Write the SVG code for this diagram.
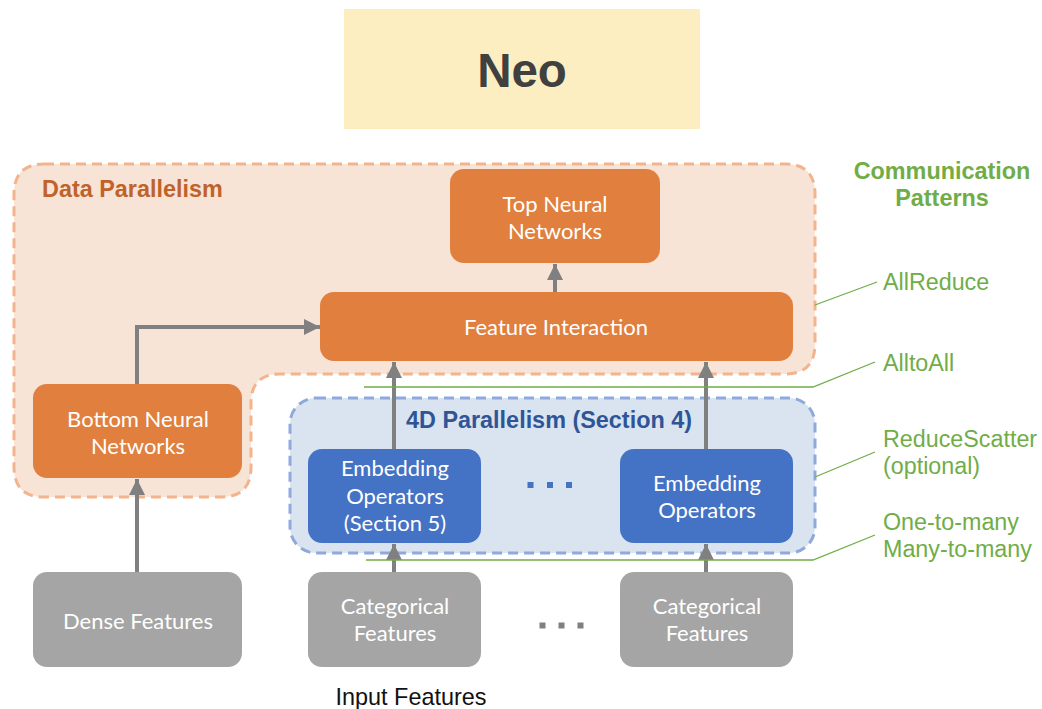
<svg xmlns="http://www.w3.org/2000/svg" width="1042" height="709" viewBox="0 0 1042 709">
  <defs>
    <marker id="arrow" markerUnits="userSpaceOnUse" markerWidth="18" markerHeight="16" refX="16" refY="8" orient="auto">
      <path d="M0,0 L16,8 L0,16 Z" fill="#808080"/>
    </marker>
    <style>
      .node-text { font-family: Lato, "Noto Sans", sans-serif; font-size: 22px; fill: #ffffff; text-anchor: middle; }
      .orange { fill: #e07f3e; }
      .blue { fill: #4472c4; }
      .gray { fill: #a5a5a5; }
      .edge { fill: none; stroke: #808080; stroke-width: 4; marker-end: url(#arrow); }
      .lead { fill: none; stroke: #70ad47; stroke-width: 1.3; }
      .comm { font-family: "Liberation Sans", Arial, sans-serif; font-size: 23.3px; fill: #70ad47; }
      .head { font-family: "Liberation Sans", Arial, sans-serif; font-size: 23.4px; font-weight: bold; }
    </style>
  </defs>
  <rect width="1042" height="709" fill="#ffffff"/>

  <!-- Title banner -->
  <g id="title">
    <rect x="344" y="9" width="356" height="120" fill="#fdeec2"/>
    <text x="522" y="87" font-family="Liberation Sans, Arial, sans-serif" font-size="47.5" font-weight="bold" fill="#404040" text-anchor="middle">Neo</text>
  </g>

  <!-- Data parallelism region (L-shaped) -->
  <g id="data-parallelism">
    <path d="M44,164 L785,164 Q815,164 815,194 L815,344 Q815,374 785,374 L280,374 Q251,374 251,403 L251,467 Q251,497 221,497 L44,497 Q14,497 14,467 L14,194 Q14,164 44,164 Z" fill="#f8e4d6" stroke="#f2b48c" stroke-width="3" stroke-dasharray="10,6"/>
    <text class="head" x="42" y="197" fill="#c0622a">Data Parallelism</text>
  </g>

  <!-- 4D parallelism region -->
  <g id="model-parallelism">
    <rect x="290" y="398" width="525" height="155" rx="26" fill="#dae3f0" stroke="#8eaadb" stroke-width="3" stroke-dasharray="10,6"/>
    <text class="head" x="549" y="428" fill="#2f5597" text-anchor="middle">4D Parallelism (Section 4)</text>
  </g>

  <!-- Connectors -->
  <g id="connectors">
    <line class="edge" x1="137" y1="572" x2="137" y2="479"/>
    <polyline class="edge" points="137,384 137,327 320,327"/>
    <line class="edge" x1="394" y1="572" x2="394" y2="544"/>
    <line class="edge" x1="706" y1="572" x2="706" y2="544"/>
    <line class="edge" x1="394" y1="449" x2="394" y2="362"/>
    <line class="edge" x1="706" y1="449" x2="706" y2="362"/>
    <line class="edge" x1="555" y1="292" x2="555" y2="264"/>
  </g>

  <!-- Nodes -->
  <g id="top-nn">
    <rect class="orange" x="450" y="169" width="210" height="94" rx="14"/>
    <text class="node-text" x="555" y="211.5">Top Neural</text>
    <text class="node-text" x="555" y="238.5">Networks</text>
  </g>
  <g id="feature-interaction">
    <rect class="orange" x="320" y="292" width="473" height="69" rx="14"/>
    <text class="node-text" x="556" y="335">Feature Interaction</text>
  </g>
  <g id="bottom-nn">
    <rect class="orange" x="33" y="384" width="209" height="94" rx="14"/>
    <text class="node-text" x="138" y="427">Bottom Neural</text>
    <text class="node-text" x="138" y="453.5">Networks</text>
  </g>
  <g id="embedding-1">
    <rect class="blue" x="308" y="449" width="173" height="94" rx="14"/>
    <text class="node-text" x="395" y="476">Embedding</text>
    <text class="node-text" x="395" y="504">Operators</text>
    <text class="node-text" x="395" y="531">(Section 5)</text>
  </g>
  <!-- ellipsis between embedding operators -->
  <g id="embedding-dots" fill="#4472c4">
    <rect x="527.5" y="482" width="6" height="6"/>
    <rect x="547" y="482" width="6" height="6"/>
    <rect x="566" y="482" width="6" height="6"/>
  </g>
  <g id="embedding-n">
    <rect class="blue" x="620" y="449" width="173" height="94" rx="14"/>
    <text class="node-text" x="707" y="490.5">Embedding</text>
    <text class="node-text" x="707" y="518">Operators</text>
  </g>
  <g id="dense-features">
    <rect class="gray" x="33" y="572" width="209" height="95" rx="14"/>
    <text class="node-text" x="138" y="628.5">Dense Features</text>
  </g>
  <g id="categorical-1">
    <rect class="gray" x="308" y="572" width="173" height="95" rx="14"/>
    <text class="node-text" x="395" y="614">Categorical</text>
    <text class="node-text" x="395" y="641">Features</text>
  </g>
  <!-- ellipsis between categorical inputs -->
  <g id="categorical-dots" fill="#808080">
    <rect x="539.5" y="622.5" width="6" height="6"/>
    <rect x="558.5" y="622.5" width="6" height="6"/>
    <rect x="577.5" y="622.5" width="6" height="6"/>
  </g>
  <g id="categorical-n">
    <rect class="gray" x="620" y="572" width="173" height="95" rx="14"/>
    <text class="node-text" x="707" y="614">Categorical</text>
    <text class="node-text" x="707" y="641">Features</text>
  </g>
  <g id="input-label">
    <text x="411" y="704.5" font-family="Liberation Sans, Arial, sans-serif" font-size="23.4" fill="#111111" text-anchor="middle">Input Features</text>
  </g>

  <!-- Communication pattern callouts -->
  <g id="communication">
    <text class="head" x="942" y="178.5" fill="#70ad47" text-anchor="middle">Communication</text>
    <text class="head" x="942" y="205.5" fill="#70ad47" text-anchor="middle">Patterns</text>
    <polyline class="lead" points="815,305 877,282"/>
    <text class="comm" x="883" y="289.5">AllReduce</text>
    <polyline class="lead" points="364,387 813,387 875,362"/>
    <text class="comm" x="883" y="370.5">AlltoAll</text>
    <polyline class="lead" points="815,477 875,452"/>
    <text class="comm" x="883" y="447">ReduceScatter</text>
    <text class="comm" x="883" y="474">(optional)</text>
    <polyline class="lead" points="366,560 813,560 875,535"/>
    <text class="comm" x="883" y="529.5">One-to-many</text>
    <text class="comm" x="883" y="556.5">Many-to-many</text>
  </g>
</svg>
